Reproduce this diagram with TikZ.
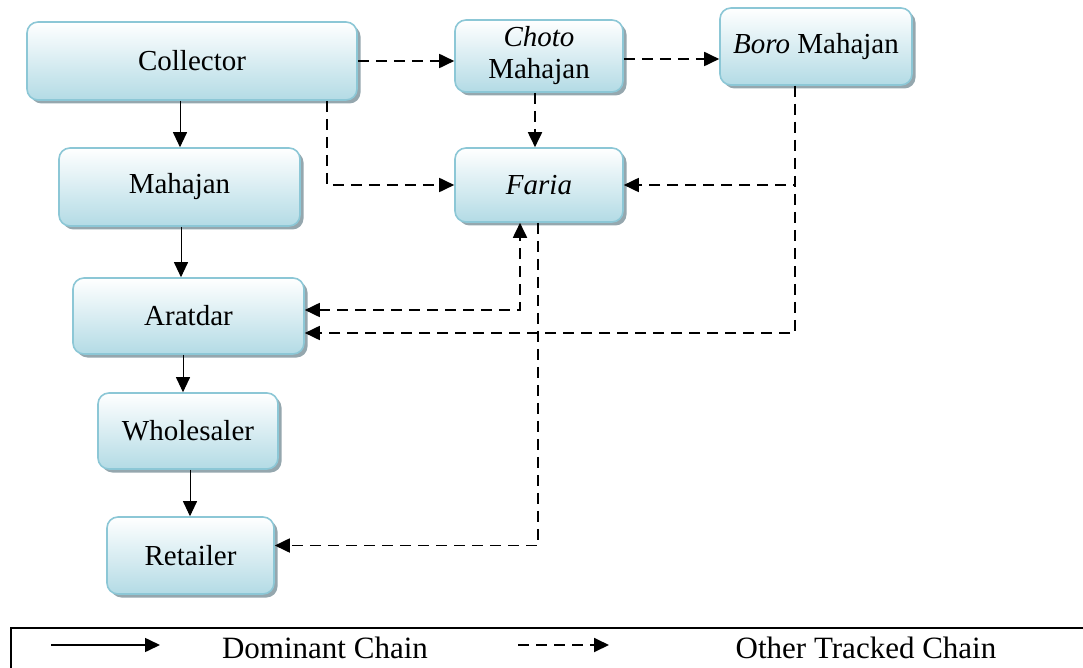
\documentclass[tikz,border=0pt]{standalone}
\usepackage{fontspec}
\setmainfont{Liberation Serif}
\usetikzlibrary{arrows.meta,shadows}
\definecolor{boxedge}{HTML}{8CC7D6}
\definecolor{boxbot}{HTML}{B3DBE5}
\definecolor{shadowc}{HTML}{8A9EA6}
\tikzset{
  box/.style={draw=boxedge, line width=1.6pt, rounded corners=11pt,
    top color=white, bottom color=boxbot, align=center, inner sep=0pt,
    font=\rmfamily\fontsize{29}{32}\selectfont,
    drop shadow={shadow xshift=3.5pt, shadow yshift=-3.5pt, fill=shadowc, opacity=0.9}},
  tip/.style={-{Triangle[length=15pt,width=14pt]}},
  solidline/.style={tip, line width=1pt},
  dashline/.style={tip, line width=1.8pt, dash pattern=on 11pt off 7pt},
  legtext/.style={font=\rmfamily\fontsize{31}{33}\selectfont}
}
\begin{document}
\begin{tikzpicture}[x=1pt,y=-1pt]
\useasboundingbox (0,0) rectangle (1083,668);
\fill[white] (0,0) rectangle (1083,668);
% nodes
\node[box, minimum width=330pt, minimum height=78pt] (col) at (192,61) {Collector};
\node[box, minimum width=168pt, minimum height=72pt] (cho) at (539,56) {\textit{Choto}\\Mahajan};
\node[box, minimum width=192pt, minimum height=77pt] (boro) at (816,46.5) {\textit{Boro} Mahajan};
\node[box, minimum width=168pt, minimum height=74pt] (far) at (539,185) {\textit{Faria}};
\node[box, minimum width=241pt, minimum height=78pt] (mah) at (179.5,187) {Mahajan};
\node[box, minimum width=231pt, minimum height=76pt] (ara) at (188.5,316) {Aratdar};
\node[box, minimum width=180pt, minimum height=76pt] (who) at (188,431) {Wholesaler};
\node[box, minimum width=167pt, minimum height=77pt] (ret) at (190.5,555.5) {Retailer};
% solid (dominant chain)
\draw[solidline] ([xshift=-12pt]col.south) -- ([xshift=-12pt]col.south |- mah.north);
\draw[solidline] ([xshift=1.5pt]mah.south) -- ([xshift=1.5pt]mah.south |- ara.north);
\draw[solidline] ([xshift=-5.5pt]ara.south) -- ([xshift=-5.5pt]ara.south |- who.north);
\draw[solidline] ([xshift=2pt]who.south) -- ([xshift=2pt]who.south |- ret.north);
% dashed (other tracked chain)
\draw[dashline] (col.east) -- (col.east -| cho.west);
\draw[dashline] ([yshift=-3pt]cho.east) -- ([yshift=-3pt]cho.east -| boro.west);
\draw[dashline] ([xshift=135pt]col.south) |- (far.west);
\draw[dashline] ([xshift=-4pt]cho.south) -- ([xshift=-4pt]far.north);
\coordinate (bd) at ([xshift=-21pt]boro.south);
\draw[dashline] (bd) |- (far.east);
\draw[dashline] (bd) |- ([yshift=-17pt]ara.east);
\draw[dashline,{Triangle[length=15pt,width=14pt]}-{Triangle[length=15pt,width=14pt]}] ([yshift=6pt]ara.east) -| ([xshift=-19pt]far.south);
\draw[dashline] ([xshift=-1pt]far.south) |- ([yshift=10pt]ret.east);
% legend
\draw[line width=1.2pt] (11,628) rectangle (1095,680);
\node[legtext] (lt1) at (325,648) {Dominant Chain};
\node[legtext] (lt2) at (866,648) {Other Tracked Chain};
\coordinate (s1) at (51,645);
\coordinate (s2) at (160,645);
\coordinate (d1) at (518,645);
\coordinate (d2) at (609,645);
\draw[solidline, line width=1.6pt] (s1) -- (s2);
\draw[dashline] (d1) -- (d2);
\end{tikzpicture}
\end{document}
